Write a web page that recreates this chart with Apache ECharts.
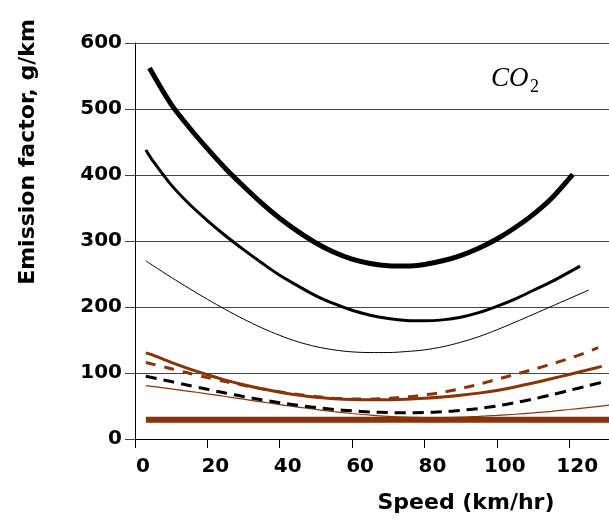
<!DOCTYPE html>
<html>
<head>
<meta charset="utf-8">
<script src="https://cdn.jsdelivr.net/npm/echarts@6/dist/echarts.min.js"></script>
<style>
  html, body { margin: 0; padding: 0; background: #ffffff; }
  #chart { width: 609px; height: 526px; }
</style>
</head>
<body>
<div id="chart"></div>
<script>
// Emission factor (g/km) of CO2 versus travel speed (km/hr)
const xTicks = [0, 20, 40, 60, 80, 100, 120];
const yTicks = [0, 100, 200, 300, 400, 500, 600];

const heavyBlack = [[4, 562], [10, 507], [15, 472], [20, 440], [25, 410], [30, 383], [35, 357.5],
  [40, 334.5], [45, 314.5], [50, 297], [55, 283], [60, 272.5], [65, 266], [70, 262.5], [75, 262],
  [80, 264.5], [85, 270], [90, 278], [95, 289], [100, 303], [105, 320], [110, 340], [115, 364], [121, 401]];
const mediumBlack = [[3, 438], [5, 421], [10, 385], [15, 356], [20, 331], [25, 308], [30, 287],
  [35, 267], [40, 248], [45, 232], [50, 217], [55, 205], [60, 195], [65, 187.5], [70, 182.5],
  [75, 179.5], [80, 179], [85, 180.5], [90, 184.5], [95, 191.5], [100, 201], [105, 212],
  [110, 225], [115, 238], [123, 262]];
const thinBlack = [[3, 270], [5, 262.6], [10, 245], [15, 228], [20, 211.7], [25, 196.2], [30, 181.7],
  [35, 168.5], [40, 157], [45, 147.3], [50, 140], [55, 135], [60, 132], [65, 131], [70, 131],
  [75, 132.5], [80, 135], [85, 139.7], [90, 146.5], [95, 155], [100, 165.4], [105, 176.8],
  [110, 188.7], [115, 200.7], [120, 212.7], [125.4, 225.7]];
const brownSolid = [[3, 130.5], [5, 127], [10, 116.1], [15, 106.2], [20, 97.3], [25, 89.2], [30, 82.2],
  [35, 76.1], [40, 70.9], [45, 66.7], [50, 63.4], [55, 61.1], [60, 59.7], [65, 59.3], [70, 59.5],
  [75, 60.3], [80, 61.7], [85, 63.6], [90, 66.2], [95, 69.5], [100, 73.6], [105, 78.8],
  [110, 84.8], [115, 91.2], [120, 97.8], [125, 104.5], [129, 110]];
const brownDashed = [[3, 116], [10, 106.5], [15, 99.6], [20, 93], [25, 86.9], [30, 81.3], [35, 76.2],
  [40, 71.6], [45, 67.6], [50, 64.3], [55, 61.9], [60, 60.6], [65, 60.4], [70, 61.5], [75, 63.6],
  [80, 66.8], [85, 70.8], [90, 76.3], [95, 83], [100, 90.3], [105, 97.8], [110, 105.3],
  [115, 113.3], [120, 122], [125, 131.8], [128, 138.4]];
const blackDashed = [[3, 95], [10, 87], [15, 81], [20, 75.3], [25, 69.6], [30, 64.3], [35, 59.4],
  [40, 55], [45, 51], [50, 47.6], [55, 44.8], [60, 42.6], [65, 41], [70, 40], [75, 39.7],
  [80, 40.1], [85, 41.3], [90, 43.3], [95, 46.2], [100, 50.1], [105, 54.9], [110, 60.5],
  [115, 66.8], [120, 73.6], [125, 80.4], [130, 87]];
const brownThin = [[3, 81], [10, 76], [15, 72.3], [20, 68.5], [25, 64.4], [30, 60.3], [35, 56.2],
  [40, 52.2], [45, 48.4], [50, 44.8], [55, 41.5], [60, 38.6], [65, 36.1], [70, 34.2], [75, 33],
  [80, 32.4], [85, 32.4], [90, 33], [95, 34.2], [100, 35.7], [105, 37.5], [110, 39.6],
  [115, 42], [120, 44.7], [125, 47.6], [131, 51.2]];
const brownFlat = [[3, 29], [131, 29]];

const BROWN = '#873508';
const labelFont = 'DejaVu Sans';

function curve(data, color, width, type) {
  return {
    type: 'line',
    data: data,
    smooth: 0.3,
    showSymbol: false,
    symbol: 'none',
    silent: true,
    lineStyle: { color: color, width: width, type: type || 'solid', cap: 'butt' },
    z: 3
  };
}

const chart = echarts.init(document.getElementById('chart'), null, { renderer: 'canvas' });
chart.setOption({
  backgroundColor: '#ffffff',
  animation: false,
  grid: { left: 135, right: 0, top: 43, bottom: 87, containLabel: false },
  xAxis: {
    type: 'value',
    min: xTicks[0],
    max: 131,
    interval: 20,
    axisLine: { show: true, lineStyle: { color: '#000000', width: 1 } },
    axisTick: { show: true, length: 9, lineStyle: { color: '#000000', width: 1 } },
    splitLine: { show: false },
    axisLabel: {
      showMaxLabel: false,
      margin: 18,
      padding: [0, 0, 0, 16],
      fontFamily: labelFont,
      fontWeight: 'bold',
      fontSize: 20,
      color: '#000000',
      formatter: v => (xTicks.indexOf(v) >= 0 ? String(v) : '')
    }
  },
  yAxis: {
    type: 'value',
    min: yTicks[0],
    max: yTicks[yTicks.length - 1],
    interval: 100,
    axisLine: { show: true, lineStyle: { color: '#000000', width: 1 } },
    axisTick: { show: true, length: 10, lineStyle: { color: '#444444', width: 1 } },
    splitLine: { show: true, lineStyle: { color: '#444444', width: 1 } },
    axisLabel: {
      margin: 13,
      fontFamily: labelFont,
      fontWeight: 'bold',
      fontSize: 20,
      color: '#000000',
      formatter: v => (yTicks.indexOf(v) >= 0 ? String(v) : '')
    }
  },
  graphic: [
    {
      type: 'text',
      x: 466, y: 503,
      style: {
        text: 'Speed (km/hr)',
        font: 'bold 22px "DejaVu Sans"',
        fill: '#000000',
        textAlign: 'center',
        textVerticalAlign: 'middle'
      }
    },
    {
      type: 'text',
      x: 28, y: 152,
      rotation: Math.PI / 2,
      style: {
        text: 'Emission factor, g/km',
        font: 'bold 22px "DejaVu Sans"',
        fill: '#000000',
        textAlign: 'center',
        textVerticalAlign: 'middle'
      }
    },
    {
      type: 'text',
      x: 491, y: 79,
      style: {
        text: 'CO',
        font: 'italic 27px "Liberation Serif"',
        fill: '#000000',
        textAlign: 'left',
        textVerticalAlign: 'middle'
      }
    },
    {
      type: 'text',
      x: 530, y: 87,
      style: {
        text: '2',
        font: '18px "Liberation Serif"',
        fill: '#000000',
        textAlign: 'left',
        textVerticalAlign: 'middle'
      }
    }
  ],
  series: [
    curve(brownFlat, BROWN, 6),
    curve(brownThin, BROWN, 1.2),
    curve(blackDashed, '#000000', 3, [11, 7]),
    curve(brownDashed, BROWN, 3, [10, 9]),
    curve(brownSolid, BROWN, 3),
    curve(thinBlack, '#000000', 1),
    curve(mediumBlack, '#000000', 3),
    curve(heavyBlack, '#000000', 5)
  ]
});
</script>
</body>
</html>
